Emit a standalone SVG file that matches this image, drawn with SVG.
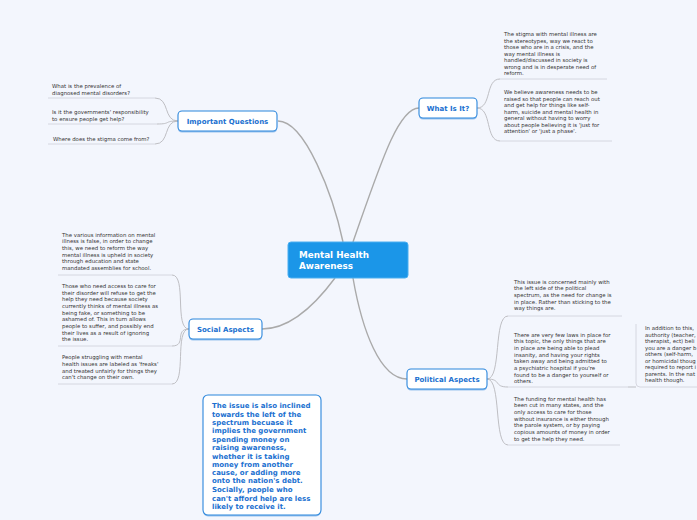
<svg xmlns="http://www.w3.org/2000/svg" width="697" height="520" viewBox="0 0 697 520">
<style>
.t{font-family:"DejaVu Sans",Verdana,sans-serif;font-size:5.4px;fill:#333}
.b{font-family:"DejaVu Sans",Verdana,sans-serif;font-size:7px;font-weight:bold;fill:#1a70d0}
.c{font-family:"DejaVu Sans",Verdana,sans-serif;font-size:8.8px;font-weight:bold;fill:#fff}
.main{fill:none;stroke:#aaaaaa;stroke-width:1.4}
.sub{fill:none;stroke:#b8b8bc;stroke-width:0.9}
.ul{fill:none;stroke:#d2d4dc;stroke-width:0.9}
.box{fill:#fff;stroke:#2a86dc;stroke-width:1.1}
.sh{fill:#9cc4ee}
</style>
<rect width="697" height="520" fill="#f3f6fd"/>
<g id="connectors">
<path class="main" d="M353,242 C380,165 398,108 419,108"/>
<path class="main" d="M343,242 C333,195 305,121 278,121"/>
<path class="main" d="M335,278 C315,305 290,329 262,329"/>
<path class="main" d="M353,278 C362,330 380,379 407,379"/>
<path class="sub" d="M477,108 C492,108 485,79 500,79"/>
<path class="sub" d="M477,108 C492,108 485,141 500,141"/>
<path class="sub" d="M178,121 C163,121 170,98 155,98"/>
<path class="sub" d="M178,121 C163,121 172,124 157,124"/>
<path class="sub" d="M178,121 C163,121 170,144 155,144"/>
<path class="sub" d="M189,329 C174,329 187,275 172,275"/>
<path class="sub" d="M189,329 C174,329 187,346 172,346"/>
<path class="sub" d="M189,329 C174,329 187,384 172,384"/>
<path class="sub" d="M487,379 C502,379 493,316 508,316"/>
<path class="sub" d="M487,379 C502,379 493,387 508,387"/>
<path class="sub" d="M487,379 C502,379 493,445 508,445"/>
<path class="sub" d="M628,387 L636,387"/>
</g>
<g id="underlines">
<path class="ul" d="M500,79 H607"/>
<path class="ul" d="M500,141 H612"/>
<path class="ul" d="M155,98 H48"/>
<path class="ul" d="M157,124 H48"/>
<path class="ul" d="M155,144 H48"/>
<path class="ul" d="M172,275 H58"/>
<path class="ul" d="M172,346 H58"/>
<path class="ul" d="M172,384 H58"/>
<path class="ul" d="M508,316 H622"/>
<path class="ul" d="M508,387 H628"/>
<path class="ul" d="M508,445 H620"/>
<path class="ul" d="M636,324 V383 Q636,387 640,387 H697"/>
</g>
<g id="central">
<rect x="288" y="242" width="120" height="36" rx="3" fill="#1b96e8" stroke="#4aaef0" stroke-width="1"/>
<text class="c" x="299" y="258.3">Mental Health</text>
<text class="c" x="299" y="269">Awareness</text>
</g>
<g id="what-is-it">
<rect class="sh" x="419" y="99.5" width="58" height="20" rx="4"/>
<rect class="box" x="419" y="98" width="58" height="20" rx="4"/>
<text class="b" x="448" y="110.5" text-anchor="middle">What Is It?</text>
</g>
<g id="important-questions">
<rect class="sh" x="178" y="112.5" width="99" height="20" rx="4"/>
<rect class="box" x="178" y="111" width="99" height="20" rx="4"/>
<text class="b" x="227.5" y="123.5" text-anchor="middle">Important Questions</text>
</g>
<g id="social-aspects">
<rect class="sh" x="189" y="320.5" width="73" height="20" rx="4"/>
<rect class="box" x="189" y="319" width="73" height="20" rx="4"/>
<text class="b" x="225.5" y="331.5" text-anchor="middle">Social Aspects</text>
</g>
<g id="political-aspects">
<rect class="sh" x="407" y="370.5" width="80" height="20" rx="4"/>
<rect class="box" x="407" y="369" width="80" height="20" rx="4"/>
<text class="b" x="447" y="381.5" text-anchor="middle">Political Aspects</text>
</g>
<g id="what-1">
<text class="t" x="504" y="36.3">The stigma with mental illness are</text>
<text class="t" x="504" y="42.8">the stereotypes, way we react to</text>
<text class="t" x="504" y="49.3">those who are in a crisis, and the</text>
<text class="t" x="504" y="55.8">way mental illness is</text>
<text class="t" x="504" y="62.3">handled/discussed in society is</text>
<text class="t" x="504" y="68.8">wrong and is in desperate need of</text>
<text class="t" x="504" y="75.3">reform.</text>
</g>
<g id="what-2">
<text class="t" x="504" y="94.3">We believe awareness needs to be</text>
<text class="t" x="504" y="100.8">raised so that people can reach out</text>
<text class="t" x="504" y="107.3">and get help for things like self-</text>
<text class="t" x="504" y="113.8">harm, suicide and mental health in</text>
<text class="t" x="504" y="120.3">general without having to worry</text>
<text class="t" x="504" y="126.8">about people believing it is 'just for</text>
<text class="t" x="504" y="133.3">attention' or 'just a phase'.</text>
</g>
<g id="question-1">
<text class="t" x="52" y="88.3">What is the prevalence of</text>
<text class="t" x="52" y="95">diagnosed mental disorders?</text>
</g>
<g id="question-2">
<text class="t" x="52" y="114.3">Is it the governments' responsibility</text>
<text class="t" x="52" y="121">to ensure people get help?</text>
</g>
<g id="question-3">
<text class="t" x="53" y="141">Where does the stigma come from?</text>
</g>
<g id="social-1">
<text class="t" x="62" y="236.7">The various information on mental</text>
<text class="t" x="62" y="243.3">illness is false, in order to change</text>
<text class="t" x="62" y="250">this, we need to reform the way</text>
<text class="t" x="62" y="256.7">mental illness is upheld in society</text>
<text class="t" x="62" y="263.3">through education and state</text>
<text class="t" x="62" y="270">mandated assemblies for school.</text>
</g>
<g id="social-2">
<text class="t" x="62" y="288">Those who need access to care for</text>
<text class="t" x="62" y="294.7">their disorder will refuse to get the</text>
<text class="t" x="62" y="301.3">help they need because society</text>
<text class="t" x="62" y="308">currently thinks of mental illness as</text>
<text class="t" x="62" y="314.7">being fake, or something to be</text>
<text class="t" x="62" y="321.3">ashamed of. This in turn allows</text>
<text class="t" x="62" y="328">people to suffer, and possibly end</text>
<text class="t" x="62" y="334.7">their lives as a result of ignoring</text>
<text class="t" x="62" y="341.3">the issue.</text>
</g>
<g id="social-3">
<text class="t" x="62" y="359.3">People struggling with mental</text>
<text class="t" x="62" y="366">health issues are labeled as 'freaks'</text>
<text class="t" x="62" y="372.7">and treated unfairly for things they</text>
<text class="t" x="62" y="379.3">can't change on their own.</text>
</g>
<g id="political-1">
<text class="t" x="514" y="283.7">This issue is concerned mainly with</text>
<text class="t" x="514" y="290.3">the left side of the political</text>
<text class="t" x="514" y="297">spectrum, as the need for change is</text>
<text class="t" x="514" y="303.7">in place. Rather than sticking to the</text>
<text class="t" x="514" y="310.3">way things are.</text>
</g>
<g id="political-2">
<text class="t" x="514" y="336.7">There are very few laws in place for</text>
<text class="t" x="514" y="343.3">this topic, the only things that are</text>
<text class="t" x="514" y="350">in place are being able to plead</text>
<text class="t" x="514" y="356.7">insanity, and having your rights</text>
<text class="t" x="514" y="363.3">taken away and being admitted to</text>
<text class="t" x="514" y="370">a psychiatric hospital if you're</text>
<text class="t" x="514" y="376.7">found to be a danger to yourself or</text>
<text class="t" x="514" y="383.3">others.</text>
</g>
<g id="political-3">
<text class="t" x="514" y="400.7">The funding for mental health has</text>
<text class="t" x="514" y="407.3">been cut in many states, and the</text>
<text class="t" x="514" y="414">only access to care for those</text>
<text class="t" x="514" y="420.7">without insurance is either through</text>
<text class="t" x="514" y="427.3">the parole system, or by paying</text>
<text class="t" x="514" y="434">copious amounts of money in order</text>
<text class="t" x="514" y="440.7">to get the help they need.</text>
</g>
<g id="political-2-1">
<text class="t" x="645" y="330">In addition to this,</text>
<text class="t" x="645" y="336.5">authority (teacher,</text>
<text class="t" x="645" y="343">therapist, ect) beli</text>
<text class="t" x="645" y="349.5">you are a danger b</text>
<text class="t" x="645" y="356">others (self-harm,</text>
<text class="t" x="645" y="362.5">or homicidal thoug</text>
<text class="t" x="645" y="369">required to report i</text>
<text class="t" x="645" y="375.5">parents. In the nat</text>
<text class="t" x="645" y="382">health though.</text>
</g>
<g id="floating-note">
<rect class="sh" x="203" y="396.5" width="118" height="120" rx="5"/>
<rect class="box" x="203" y="395" width="118" height="120" rx="5"/>
<text class="b" x="212" y="407.5">The issue is also inclined</text>
<text class="b" x="212" y="416.5">towards the left of the</text>
<text class="b" x="212" y="424.8">spectrum becuase it</text>
<text class="b" x="212" y="433.2">implies the government</text>
<text class="b" x="212" y="441.8">spending money on</text>
<text class="b" x="212" y="450.2">raising awareness,</text>
<text class="b" x="212" y="458.5">whether it is taking</text>
<text class="b" x="212" y="466.5">money from another</text>
<text class="b" x="212" y="474.8">cause, or adding more</text>
<text class="b" x="212" y="483.2">onto the nation's debt.</text>
<text class="b" x="212" y="491.8">Socially, people who</text>
<text class="b" x="212" y="500.8">can't afford help are less</text>
<text class="b" x="212" y="509.2">likely to receive it.</text>
</g>
</svg>
